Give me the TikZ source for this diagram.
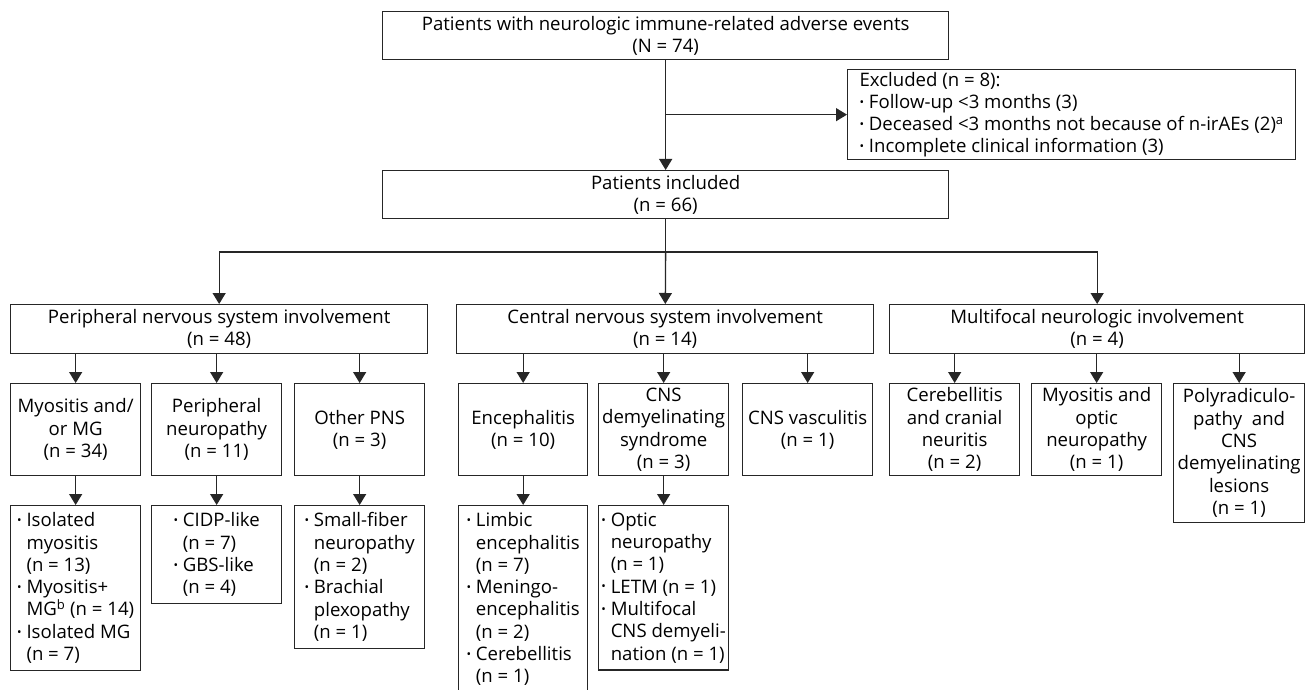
\documentclass[tikz,border=0pt]{standalone}
\usepackage{fontspec}
\setmainfont{Open Sans}
\usetikzlibrary{arrows.meta,positioning}
\tikzset{box/.style={draw=black!85, line width=1.3pt, text=black, inner sep=0pt, align=center, anchor=north west, font=\fontsize{18.6}{22.3}\selectfont}, listbox/.style={box, align=left, inner ysep=7pt}, arr/.style={draw=black!85, line width=1.3pt, -{Triangle[width=13pt,length=11pt]}}, lin/.style={draw=black!85, line width=1.3pt}}
\newcommand{\bul}{\raisebox{0.12em}{\fontsize{12}{12}\selectfont\textbullet}\ }
\newcommand{\ind}{\hphantom{\bul}}

\begin{document}
\begin{tikzpicture}[x=1pt,y=-1pt]
\useasboundingbox (0,0) rectangle (1307,690);
\node[box, minimum width=566, minimum height=48] (top) at (382,11) {Patients with neurologic immune-related adverse events\\(N = 74)};
\node[box, align=left, minimum width=448, minimum height=90] (excl) at (847,69) {Excluded (n = 8):\\\bul Follow-up <3 months (3)\\\bul Deceased <3 months not because of n-irAEs (2)\textsuperscript{a}\\\bul Incomplete clinical information (3)};
\node[box, minimum width=566, minimum height=48] (incl) at (382,170) {Patients included\\(n = 66)};
\node[box, minimum width=417, minimum height=49] (pns) at (10,304) {Peripheral nervous system involvement\\(n = 48)};
\node[box, minimum width=417, minimum height=49] (cns) at (456,304) {Central nervous system involvement\\(n = 14)};
\node[box, minimum width=415, minimum height=49] (mult) at (889,304) {Multifocal neurologic involvement\\(n = 4)};
\node[box, minimum width=130, minimum height=92] (myo) at (10,383) {Myositis and/\\or MG\\(n = 34)};
\node[box, minimum width=130, minimum height=92] (pnp) at (151,383) {Peripheral\\neuropathy\\(n = 11)};
\node[box, minimum width=130, minimum height=92] (opns) at (294,383) {Other PNS\\(n = 3)};
\node[box, minimum width=129, minimum height=92] (enc) at (458,383) {Encephalitis\\(n = 10)};
\node[box, minimum width=130, minimum height=92] (cnsd) at (598,383) {CNS\\demyelinating\\syndrome\\(n = 3)};
\node[box, minimum width=130, minimum height=92] (cnsv) at (742,383) {CNS vasculitis\\(n = 1)};
\node[box, minimum width=130, minimum height=92] (cer) at (889,383) {Cerebellitis\\and cranial\\neuritis\\(n = 2)};
\node[box, minimum width=130, minimum height=92] (myoopt) at (1031,383) {Myositis and\\optic\\neuropathy\\(n = 1)};
\node[box, minimum width=131, minimum height=139] (poly) at (1173,383) {Polyradiculo-\\pathy\ \ and\\CNS\\demyelinating\\lesions\\(n = 1)};
\node[listbox, minimum width=130] (myolist) at (10,505) {\bul Isolated\\\ind myositis\\\ind(n = 13)\\\bul Myositis+\\\ind MG\textsuperscript{b} (n = 14)\\\bul Isolated MG\\\ind(n = 7)};
\node[listbox, minimum width=130] (pnplist) at (151,505) {\bul CIDP-like\\\ind(n = 7)\\\bul GBS-like\\\ind(n = 4)};
\node[listbox, minimum width=130] (opnslist) at (294,505) {\bul Small-fiber\\\ind neuropathy\\\ind(n = 2)\\\bul Brachial\\\ind plexopathy\\\ind(n = 1)};
\node[listbox, minimum width=129] (enclist) at (458,505) {\bul Limbic\\\ind encephalitis\\\ind(n = 7)\\\bul Meningo-\\\ind encephalitis\\\ind(n = 2)\\\bul Cerebellitis\\\ind(n = 1)};
\node[listbox, minimum width=130] (cnsdlist) at (598,505) {\bul Optic\\\ind neuropathy\\\ind(n = 1)\\\bul LETM (n = 1)\\\bul Multifocal\\\ind CNS demyeli-\\\ind nation (n = 1)};
\coordinate (split) at (incl.south |- 0,252);
\draw[arr] (top) -- (incl);
\draw[arr] (top.south |- excl.west) -- (excl);
\draw[lin] (incl) -- (split);
\draw[arr] (split) -| (pns);
\draw[arr] (split) -- (cns);
\draw[arr] (split) -| (mult);
\draw[arr] (pns.south -| myo.north) -- (myo);
\draw[arr] (pns.south -| pnp.north) -- (pnp);
\draw[arr] (pns.south -| opns.north) -- (opns);
\draw[arr] (cns.south -| enc.north) -- (enc);
\draw[arr] (cns.south -| cnsd.north) -- (cnsd);
\draw[arr] (cns.south -| cnsv.north) -- (cnsv);
\draw[arr] (mult.south -| cer.north) -- (cer);
\draw[arr] (mult.south -| myoopt.north) -- (myoopt);
\draw[arr] (mult.south -| poly.north) -- (poly);
\draw[arr] (myo) -- (myolist);
\draw[arr] (pnp) -- (pnplist);
\draw[arr] (opns) -- (opnslist);
\draw[arr] (enc) -- (enclist);
\draw[arr] (cnsd) -- (cnsdlist);
\end{tikzpicture}
\end{document}
